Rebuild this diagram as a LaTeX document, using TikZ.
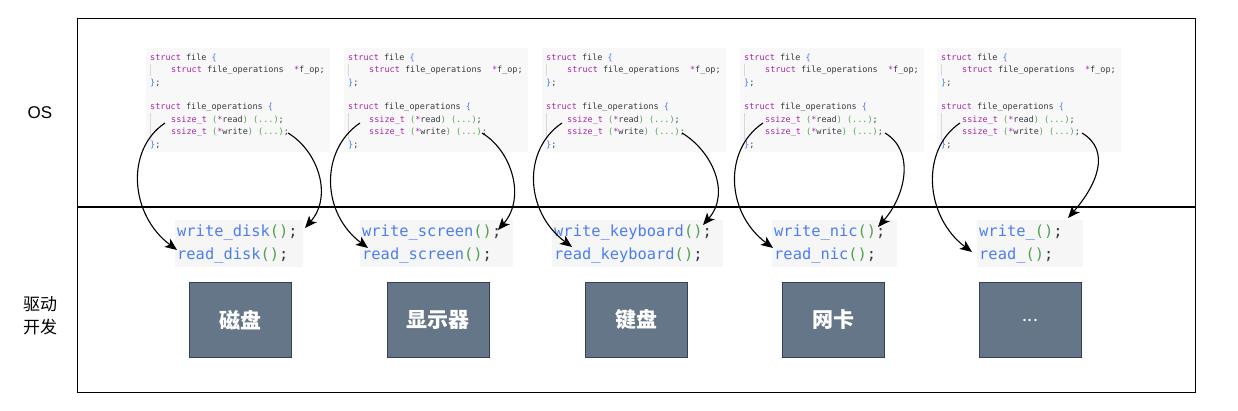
\documentclass[tikz,border=0pt]{standalone}
\usepackage{fontspec}
\setmainfont{Liberation Sans}
\newfontfamily\cjkfnt{Noto Sans CJK SC}
\newfontfamily\codefnt{DejaVu Sans Mono}
\usetikzlibrary{arrows.meta}
\definecolor{kw}{HTML}{A626A4}
\definecolor{pl}{HTML}{383A42}
\definecolor{bl}{HTML}{4078F2}
\definecolor{gr}{HTML}{50A14F}
\definecolor{fnblue}{HTML}{4C7EF3}
\definecolor{panelbg}{HTML}{F8F8F8}
\definecolor{funcbg}{HTML}{F6F6F6}
\definecolor{guide}{HTML}{D8D8D8}
\definecolor{devfill}{HTML}{647687}
\definecolor{devline}{HTML}{314354}
\newcommand\mydots{{\mdseries\fontsize{18}{20}\selectfont .\kern0.5pt.\kern0.5pt.}}
\newcommand\argdots{(.{}.{}.)}
\begin{document}
\begin{tikzpicture}[x=1pt,y=-1pt,
  frame/.style={draw=black,line width=1.2pt},
  panel/.style={fill=panelbg,draw=none,inner sep=0pt,anchor=north west},
  codeline/.style={anchor=west,inner sep=0pt,font=\codefnt\fontsize{8.5}{10}\selectfont,text=pl},
  fbox/.style={fill=funcbg,draw=none,inner sep=0pt,anchor=north west,minimum height=47pt},
  ftext/.style={anchor=west,inner sep=0pt,font=\codefnt\fontsize{15.4}{18}\selectfont,text=pl},
  devbox/.style={fill=devfill,draw=devline,line width=1pt,minimum width=102pt,minimum height=74pt,
    text=white,font=\cjkfnt\bfseries\fontsize{21}{24}\selectfont},
  sidelabel/.style={align=center,font=\cjkfnt\fontsize{17}{23}\selectfont},
  arr/.style={draw=black,line width=1.1pt,-{Stealth[length=12pt,width=10pt,inset=3pt]}},
  gl/.style={draw=guide,line width=0.6pt}
]
\useasboundingbox[fill=white] (0,0) rectangle (1238,411);
% outer frame and divider
\node[frame,anchor=north west,minimum width=1118pt,minimum height=374pt,inner sep=0pt] (outer) at (77,18) {};
\coordinate (divl) at (77,207);
\coordinate (divr) at (1195,207);
\draw[frame] (divl) -- (divr);
% side labels
\node[sidelabel,font=\fontsize{17}{20}\selectfont] (os) at (40,113) {OS};
\node[sidelabel] (drv) at (40,316) {驱动\\开发};
% columns
\foreach \i/\px/\fx/\fr/\rsx/\rtx/\rty/\wsx/\wtx/\wty/\wn/\rn/\bx/\lab in {
  1/146/175/303/165/177/250/288/305/228/write\_disk/read\_disk/240/磁盘,
  2/344/360/513/360/368/248/482/498/230/write\_screen/read\_screen/438/显示器,
  3/542/552/723/562/572/247/682/703/225/write\_keyboard/read\_keyboard/636/键盘,
  4/740/772/897/763/773/248/885/878/227/write\_nic/read\_nic/833/网卡,
  5/937/977/1083/960/972/252/1082/1068/218/write\_/read\_/1030/\mydots}{
  % code panel
  \node[panel,minimum width=184pt,minimum height=104pt] (p\i) at (\px,48) {};
  \draw[gl] (\px+4.5,64) -- (\px+4.5,76);
  \draw[gl] (\px+4.5,113) -- (\px+4.5,140);
  \node[codeline] (p\i a) at (\px+4,57.7) {\textcolor{kw}{struct} file \textcolor{bl}{\{}};
  \node[codeline] (p\i b) at (\px+25,70.2) {\textcolor{kw}{struct} file\_operations~~\textcolor{kw}{*}f\_op;};
  \node[codeline] (p\i c) at (\px+4,82.7) {\textcolor{bl}{\}};};
  \node[codeline] (p\i d) at (\px+4,107.7) {\textcolor{kw}{struct} file\_operations \textcolor{bl}{\{}};
  \node[codeline] (p\i e) at (\px+25,120.2) {\textcolor{kw}{ssize\_t} \textcolor{gr}{(}\textcolor{kw}{*}read\textcolor{gr}{)} \textcolor{gr}{\argdots};};
  \node[codeline] (p\i f) at (\px+25,132.7) {\textcolor{kw}{ssize\_t} \textcolor{gr}{(}\textcolor{kw}{*}write\textcolor{gr}{)} \textcolor{gr}{\argdots};};
  \node[codeline] (p\i g) at (\px+4,145.2) {\textcolor{bl}{\}};};
  % function box
  \node[fbox,minimum width={(\fr-\fx)*1pt}] (f\i) at (\fx,220) {};
  \node[ftext] (w\i) at (\fx+2,232) {\textcolor{fnblue}{\wn}\textcolor{gr}{()};};
  \node[ftext] (r\i) at (\fx+2,255) {\textcolor{fnblue}{\rn}\textcolor{gr}{()};};
  % device box
  \node[devbox] (d\i) at (\bx,320) {\lab};
  % arrows
  \coordinate (rs\i) at (\rsx,123);
  \coordinate (rt\i) at (\rtx,\rty);
  \coordinate (ws\i) at (\wsx,133);
  \coordinate (wt\i) at (\wtx,\wty);
  \draw[arr] (rs\i) .. controls +(-40,27) and +(-47,-35) .. (rt\i);
  \draw[arr] (ws\i) .. controls +(30,18) and +(28,-32) .. (wt\i);
}
\end{tikzpicture}
\end{document}
